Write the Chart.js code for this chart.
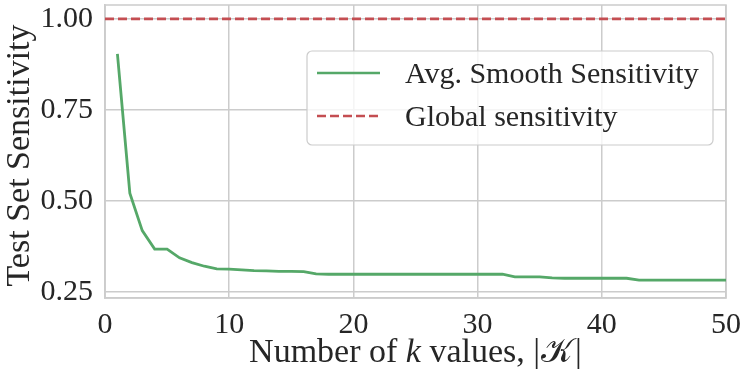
<!DOCTYPE html>
<html>
<head>
<meta charset="utf-8">
<script src="https://cdn.jsdelivr.net/npm/chart.js@4.4.0/dist/chart.umd.min.js"></script>
<style>
  body { margin: 0; background: #fff; }
  #wrap { width: 748px; height: 378px; }
</style>
</head>
<body>
<div id="wrap"><canvas id="sensChart" width="748" height="378"></canvas></div>
<script>
// number of k values
const kValues = [1,2,3,4,5,6,7,8,9,10,11,12,13,14,15,16,17,18,19,20,21,22,23,24,25,
                 26,27,28,29,30,31,32,33,34,35,36,37,38,39,40,41,42,43,44,45,46,47,48,49,50];
// avg. smooth sensitivity
const smoothSens = [0.904,0.521,0.418,0.367,0.367,0.343,0.330,0.320,0.313,0.312,
                    0.310,0.308,0.307,0.306,0.306,0.305,0.299,0.298,0.298,0.298,
                    0.298,0.298,0.298,0.298,0.298,0.298,0.298,0.298,0.298,0.298,
                    0.298,0.298,0.291,0.291,0.291,0.288,0.287,0.287,0.287,0.287,
                    0.287,0.287,0.282,0.282,0.282,0.282,0.282,0.282,0.282,0.282];
const globalX = [0, 50];
const globalSens = [1.0, 1.0];
const yTicks = [0.25, 0.50, 0.75, 1.00];
const xTicks = [0, 10, 20, 30, 40, 50];

const serif = "'Liberation Serif', 'Times New Roman', serif";
const green = '#55a868';
const red = '#c44e52';
const gridCol = '#cccccc';
const textCol = '#262626';

// frame round the plot area + axis titles + legend box
const extras = {
  id: 'extras',
  beforeDatasetsDraw(chart) {
    const a = chart.chartArea, ctx = chart.ctx;
    ctx.save();
    ctx.strokeStyle = gridCol;
    ctx.lineWidth = 1.5;
    ctx.strokeRect(a.left, a.top, a.right - a.left, a.bottom - a.top);
    ctx.restore();
  },
  afterDraw(chart) {
    const ctx = chart.ctx, a = chart.chartArea;
    ctx.save();
    ctx.fillStyle = textCol;
    ctx.textBaseline = 'alphabetic';

    // y axis title
    ctx.save();
    ctx.translate(29, (a.top + a.bottom) / 2 + 4);
    ctx.rotate(-Math.PI / 2);
    ctx.textAlign = 'center';
    ctx.font = '34px ' + serif;
    ctx.fillText('Test Set Sensitivity', 0, 0);
    ctx.restore();

    // x axis title, italic k and script K
    const parts = [
      ['Number of ', 'normal', 34, 0],
      ['k', 'italic', 34, 0],
      [' values, |', 'normal', 34, 1],
      ['\u{1D4A6}', 'normal', 34, 2],
      ['|', 'normal', 34, 0]
    ];
    let total = 0;
    parts.forEach(p => { ctx.font = p[1] + ' ' + p[2] + 'px ' + serif; total += ctx.measureText(p[0]).width + p[3]; });
    let x = (a.left + a.right) / 2 - total / 2;
    parts.forEach(p => {
      ctx.font = p[1] + ' ' + p[2] + 'px ' + serif;
      ctx.fillText(p[0], x, 362);
      x += ctx.measureText(p[0]).width + p[3];
    });

    // legend
    const bx = 307, by = 51, bw = 406, bh = 94, r = 5;
    ctx.beginPath();
    ctx.roundRect(bx, by, bw, bh, r);
    ctx.fillStyle = 'rgba(255,255,255,0.8)';
    ctx.fill();
    ctx.strokeStyle = gridCol;
    ctx.lineWidth = 1.2;
    ctx.stroke();
    const rows = [
      ['Avg. Smooth Sensitivity', green, [], 73, 83],
      ['Global sensitivity', red, [9, 4], 116, 126]
    ];
    rows.forEach(rw => {
      ctx.beginPath();
      ctx.setLineDash(rw[2]);
      ctx.strokeStyle = rw[1];
      ctx.lineWidth = 2.6;
      ctx.moveTo(317, rw[3]);
      ctx.lineTo(380, rw[3]);
      ctx.stroke();
      ctx.setLineDash([]);
      ctx.font = '30px ' + serif;
      ctx.fillStyle = textCol;
      ctx.fillText(rw[0], 405, rw[4]);
    });
    ctx.restore();
  }
};

const data = {
  datasets: [
    {
      label: 'Avg. Smooth Sensitivity',
      data: kValues.map((k, i) => ({ x: k, y: smoothSens[i] })),
      borderColor: green,
      borderWidth: 2.8,
      pointRadius: 0,
      tension: 0,
      fill: false
    },
    {
      label: 'Global sensitivity',
      data: globalX.map((k, i) => ({ x: k, y: globalSens[i] })),
      borderColor: red,
      borderWidth: 2.6,
      borderDash: [9, 4],
      pointRadius: 0,
      fill: false
    }
  ]
};

const config = {
  type: 'line',
  data: data,
  options: {
    responsive: false,
    animation: false,
    layout: { padding: { top: 5, right: 22, left: 0, bottom: 0 } },
    plugins: {
      legend: { display: false },
      tooltip: { enabled: false }
    },
    scales: {
      x: {
        type: 'linear',
        min: 0,
        max: 50,
        afterBuildTicks: s => { s.ticks = xTicks.map(v => ({ value: v })); },
        afterFit: s => { s.height = 80; s.paddingLeft = 0; s.paddingRight = 0; },
        grid: { color: gridCol, lineWidth: 1.5, drawTicks: false },
        border: { display: true, color: gridCol, width: 1.5 },
        ticks: {
          color: textCol,
          padding: 9,
          maxRotation: 0,
          font: { family: serif, size: 30 }
        }
      },
      y: {
        min: 0.2327,
        max: 1.038,
        afterBuildTicks: s => { s.ticks = yTicks.map(v => ({ value: v })); },
        afterFit: s => { s.width = 105; s.paddingTop = 0; s.paddingBottom = 0; },
        grid: { color: gridCol, lineWidth: 1.5, drawTicks: false },
        border: { display: true, color: gridCol, width: 1.5 },
        ticks: {
          color: textCol,
          padding: 12,
          font: { family: serif, size: 30 },
          callback: v => v.toFixed(2)
        }
      }
    }
  },
  plugins: [extras]
};

const sensChart = new Chart(document.getElementById('sensChart'), config);
</script>
</body>
</html>
